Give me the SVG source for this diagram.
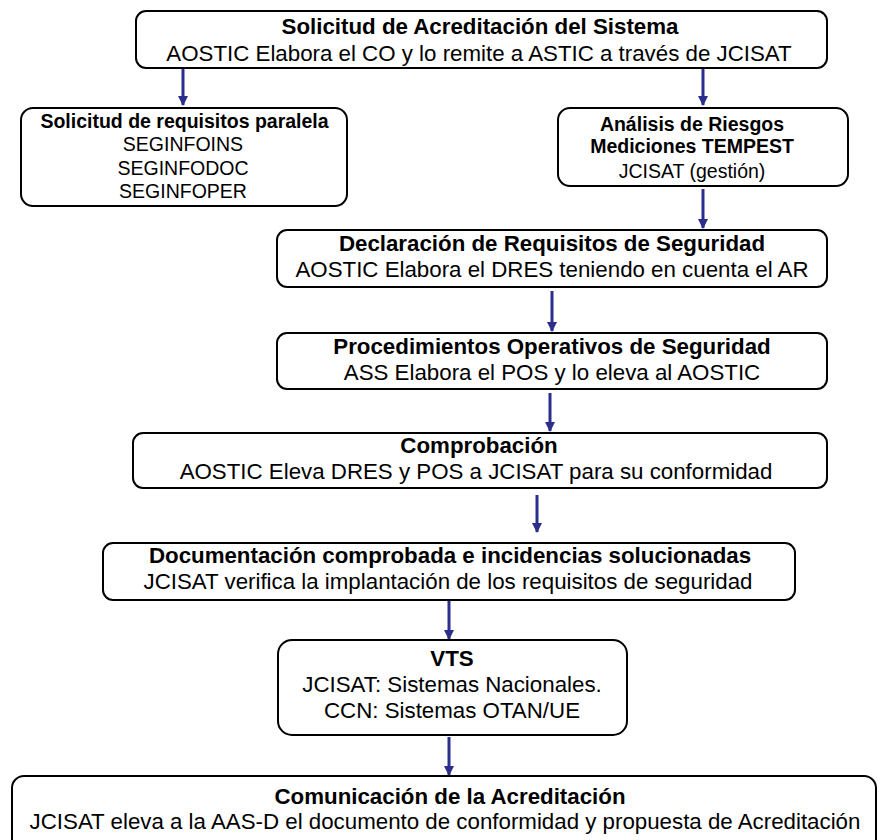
<svg xmlns="http://www.w3.org/2000/svg" width="880" height="840" viewBox="0 0 880 840">
  <defs>
    <marker id="arrow" viewBox="0 0 10 10" refX="9" refY="5" markerWidth="3.4" markerHeight="3.4" orient="auto" markerUnits="strokeWidth">
      <path d="M0,0 L10,5 L0,10 z" fill="#2b2e8c"/>
    </marker>
    <style>
      .box { fill: #ffffff; stroke: #000000; stroke-width: 2; }
      .t { font-family: "Liberation Sans", Arial, sans-serif; font-size: 22.3px; fill: #000000; text-anchor: middle; }
      .b { font-weight: bold; }
      .s { font-size: 19.5px; }
      .conn { stroke: #2b2e8c; stroke-width: 3; fill: none; marker-end: url(#arrow); }
    </style>
  </defs>
  <rect width="880" height="840" fill="#ffffff"/>

  <g id="connectors">
    <line class="conn" x1="183" y1="69" x2="183" y2="105"/>
    <line class="conn" x1="703" y1="69" x2="703" y2="105"/>
    <line class="conn" x1="703" y1="189" x2="703" y2="228"/>
    <line class="conn" x1="552" y1="291" x2="552" y2="331"/>
    <line class="conn" x1="550" y1="393" x2="550" y2="431"/>
    <line class="conn" x1="537" y1="495" x2="537" y2="532"/>
    <line class="conn" x1="449" y1="601" x2="449" y2="639"/>
    <line class="conn" x1="449" y1="737" x2="449" y2="775"/>
  </g>

  <g id="solicitud-acreditacion">
    <rect class="box" x="136" y="11" width="691" height="57" rx="10"/>
    <text class="t b" x="480" y="34">Solicitud de Acreditación del Sistema</text>
    <text class="t" x="479" y="61">AOSTIC Elabora el CO y lo remite a ASTIC a través de JCISAT</text>
  </g>

  <g id="requisitos-paralela">
    <rect class="box" x="21" y="108" width="326" height="98" rx="12"/>
    <text class="t s b" x="184.5" y="128">Solicitud de requisitos paralela</text>
    <text class="t s" x="183" y="151">SEGINFOINS</text>
    <text class="t s" x="183" y="175">SEGINFODOC</text>
    <text class="t s" x="183" y="198">SEGINFOPER</text>
  </g>

  <g id="analisis-riesgos">
    <rect class="box" x="558" y="108" width="290" height="78" rx="12"/>
    <text class="t s b" x="692" y="131">Análisis de Riesgos</text>
    <text class="t s b" x="692" y="153">Mediciones TEMPEST</text>
    <text class="t s" x="692" y="178">JCISAT (gestión)</text>
  </g>

  <g id="declaracion-requisitos">
    <rect class="box" x="277" y="230" width="550" height="57" rx="10"/>
    <text class="t b" x="552" y="251">Declaración de Requisitos de Seguridad</text>
    <text class="t" x="552" y="277">AOSTIC Elabora el DRES teniendo en cuenta el AR</text>
  </g>

  <g id="procedimientos-operativos">
    <rect class="box" x="277" y="333" width="550" height="56" rx="10"/>
    <text class="t b" x="552" y="354">Procedimientos Operativos de Seguridad</text>
    <text class="t" x="552" y="380">ASS Elabora el POS y lo eleva al AOSTIC</text>
  </g>

  <g id="comprobacion">
    <rect class="box" x="133" y="433" width="694" height="55" rx="10"/>
    <text class="t b" x="479" y="453">Comprobación</text>
    <text class="t" x="476" y="479">AOSTIC Eleva DRES y POS a JCISAT para su conformidad</text>
  </g>

  <g id="documentacion-comprobada">
    <rect class="box" x="103" y="543" width="692" height="57" rx="10"/>
    <text class="t b" x="450" y="563">Documentación comprobada e incidencias solucionadas</text>
    <text class="t" x="448" y="589">JCISAT verifica la implantación de los requisitos de seguridad</text>
  </g>

  <g id="vts">
    <rect class="box" x="278" y="640" width="349" height="95" rx="14"/>
    <text class="t b" x="452" y="666">VTS</text>
    <text class="t" x="452" y="692">JCISAT: Sistemas Nacionales.</text>
    <text class="t" x="452" y="718">CCN: Sistemas OTAN/UE</text>
  </g>

  <g id="comunicacion-acreditacion">
    <rect class="box" x="12" y="776" width="864" height="80" rx="12"/>
    <text class="t b" x="450" y="804">Comunicación de la Acreditación</text>
    <text class="t" x="445" y="829">JCISAT eleva a la AAS-D el documento de conformidad y propuesta de Acreditación</text>
  </g>
</svg>
